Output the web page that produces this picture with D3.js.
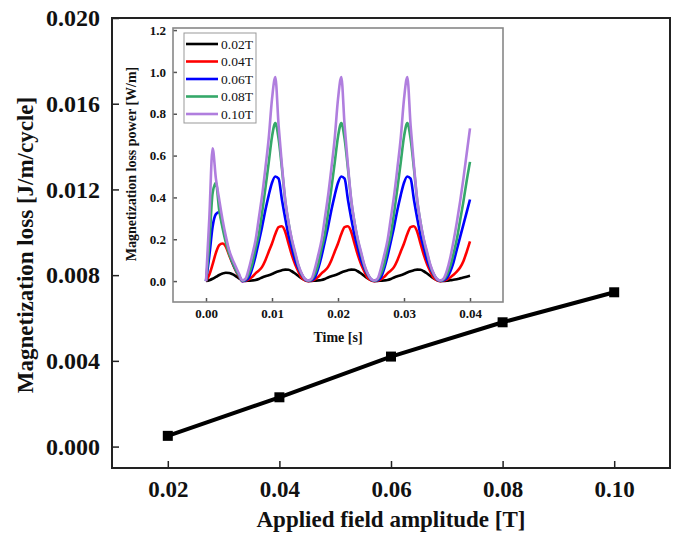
<!DOCTYPE html>
<html><head><meta charset="utf-8">
<script src="https://cdn.jsdelivr.net/npm/d3@7"></script>
<style>body{margin:0;background:#fff} svg{display:block}</style>
</head><body><svg id="c" width="677" height="536"></svg>
<script>
// ---------- main chart data ----------
const fieldAmp = [0.02, 0.04, 0.06, 0.08, 0.10];
const magLoss = [0.0005, 0.0023, 0.0042, 0.0058, 0.0072];
const mainXTicks = [0.02, 0.04, 0.06, 0.08, 0.10];
const mainYTicks = [0.000, 0.004, 0.008, 0.012, 0.016, 0.020];

// ---------- inset data ----------
const insetLabels = ["0.02T", "0.04T", "0.06T", "0.08T", "0.10T"];
const insetXTicks = [0.00, 0.01, 0.02, 0.03, 0.04];
const insetYTicks = [0.0, 0.2, 0.4, 0.6, 0.8, 1.0, 1.2];
const time = [0,0.0005,0.001,0.0015,0.002,0.0025,0.003,0.0035,0.004,0.0045,0.005,0.0055,0.006,0.0065,0.007,0.0075,0.008,0.0085,0.009,0.0095,0.01,0.0105,0.011,0.0115,0.012,0.0125,0.013,0.0135,0.014,0.0145,0.015,0.0155,0.016,0.0165,0.017,0.0175,0.018,0.0185,0.019,0.0195,0.02,0.0205,0.021,0.0215,0.022,0.0225,0.023,0.0235,0.024,0.0245,0.025,0.0255,0.026,0.0265,0.027,0.0275,0.028,0.0285,0.029,0.0295,0.03,0.0305,0.031,0.0315,0.032,0.0325,0.033,0.0335,0.034,0.0345,0.035,0.0355,0.036,0.0365,0.037,0.0375,0.038,0.0385,0.039,0.0395,0.04];
const power002 = [0,0.004,0.011,0.02,0.029,0.036,0.04,0.039,0.033,0.024,0.013,
  0.004,0.001,0.002,0.003,0.005,0.01,0.017,0.023,0.028,0.034,0.041,0.047,0.052,0.055,0.054,0.047,0.036,0.024,0.013,0.005,0.001,
  0.001,0.002,0.003,0.005,0.01,0.017,0.023,0.028,0.034,0.041,0.047,0.052,0.055,0.054,0.047,0.036,0.024,0.013,0.005,0.001,
  0.001,0.002,0.003,0.005,0.01,0.017,0.023,0.028,0.034,0.041,0.047,0.052,0.055,0.054,0.047,0.036,0.024,0.013,0.005,0.001,
  0.001,0.002,0.004,0.006,0.009,0.013,0.017,0.021,0.025];
const power004 = [0,0.03,0.08,0.135,0.172,0.18,0.165,0.125,0.085,0.05,0.022,
  0,0.002,0.008,0.02,0.037,0.05,0.068,0.10,0.14,0.18,0.225,0.258,0.262,0.236,0.18,0.125,0.08,0.045,0.015,0.004,0,
  0.002,0.008,0.02,0.037,0.05,0.068,0.10,0.14,0.18,0.225,0.258,0.262,0.236,0.18,0.125,0.08,0.045,0.015,0.004,0,
  0.002,0.008,0.02,0.037,0.05,0.068,0.10,0.14,0.18,0.225,0.258,0.262,0.236,0.18,0.125,0.08,0.045,0.015,0.004,0,
  0.002,0.007,0.017,0.03,0.045,0.065,0.095,0.14,0.19];
const power006 = [0,0.12,0.26,0.32,0.33,0.27,0.2,0.14,0.09,0.055,0.027,
  0,0.004,0.018,0.06,0.118,0.188,0.26,0.34,0.41,0.47,0.50,0.49,0.39,0.30,0.22,0.16,0.10,0.06,0.03,0.008,0.001,
  0.004,0.018,0.06,0.118,0.188,0.26,0.34,0.41,0.47,0.50,0.49,0.39,0.30,0.22,0.16,0.10,0.06,0.03,0.008,0.001,
  0.004,0.018,0.06,0.118,0.188,0.26,0.34,0.41,0.47,0.50,0.49,0.39,0.30,0.22,0.16,0.10,0.06,0.03,0.008,0.001,
  0.004,0.015,0.045,0.09,0.15,0.21,0.27,0.33,0.39];
const power008 = [0,0.18,0.42,0.47,0.34,0.255,0.185,0.13,0.09,0.055,0.027,
  0.002,0.008,0.035,0.08,0.154,0.222,0.327,0.444,0.565,0.69,0.755,0.68,0.54,0.385,0.28,0.195,0.13,0.072,0.033,0.009,0.002,
  0.008,0.035,0.08,0.154,0.222,0.327,0.444,0.565,0.69,0.755,0.68,0.54,0.385,0.28,0.195,0.13,0.072,0.033,0.009,0.002,
  0.008,0.035,0.08,0.154,0.222,0.327,0.444,0.565,0.69,0.755,0.68,0.54,0.385,0.28,0.195,0.13,0.072,0.033,0.009,0.002,
  0.008,0.03,0.07,0.13,0.20,0.29,0.38,0.48,0.57];
const power010 = [0,0.30,0.635,0.49,0.39,0.295,0.215,0.148,0.105,0.07,0.035,
  0.003,0.012,0.06,0.124,0.194,0.30,0.409,0.54,0.682,0.87,0.975,0.745,0.555,0.39,0.282,0.201,0.139,0.077,0.036,0.01,0.003,
  0.012,0.06,0.124,0.194,0.30,0.409,0.54,0.682,0.87,0.975,0.745,0.555,0.39,0.282,0.201,0.139,0.077,0.036,0.01,0.003,
  0.012,0.06,0.124,0.194,0.30,0.409,0.54,0.682,0.87,0.975,0.745,0.555,0.39,0.282,0.201,0.139,0.077,0.036,0.01,0.003,
  0.012,0.05,0.11,0.19,0.28,0.38,0.49,0.61,0.73];
const insetSeries = [power002, power004, power006, power008, power010];
const insetColors = ["#000000", "#ff0000", "#0000ff", "#35a869", "#b07ede"];

// ---------- drawing ----------
const FONT = "'Liberation Serif','Times New Roman',serif";
const svg = d3.select('#c');
svg.append('rect').attr('width',677).attr('height',536).attr('fill','#fff');

const M = {l:112, r:670, t:18, b:468};
const x = d3.scaleLinear().domain([0.01, 0.11]).range([M.l, M.r]);
const y = d3.scaleLinear().domain([-0.001, 0.020]).range([M.b, M.t]);

function styleAxis(g, size, color) {
  g.select('.domain').remove();
  g.selectAll('.tick line').attr('stroke', color).attr('stroke-width', 1.5);
  g.selectAll('.tick text').attr('font-family', FONT).attr('font-weight', 'bold')
    .attr('font-size', size).attr('fill', '#111');
}

svg.append('g').attr('transform', `translate(${M.l},0)`)
  .call(d3.axisLeft(y).tickValues(mainYTicks).tickFormat(d3.format('.3f'))
    .tickSizeInner(-7).tickSizeOuter(0).tickPadding(12))
  .call(g => styleAxis(g, 24, '#222'));
svg.append('g').attr('transform', `translate(0,${M.b})`)
  .call(d3.axisBottom(x).tickValues(mainXTicks).tickFormat(d3.format('.2f'))
    .tickSizeInner(-7).tickSizeOuter(0).tickPadding(13))
  .call(g => styleAxis(g, 23, '#222'));

svg.append('rect').attr('x', M.l).attr('y', M.t).attr('width', M.r - M.l).attr('height', M.b - M.t)
  .attr('fill', 'none').attr('stroke', '#222').attr('stroke-width', 2);

svg.append('text').attr('transform', `translate(33,245) rotate(-90)`)
  .attr('text-anchor', 'middle').attr('font-family', FONT).attr('font-weight', 'bold')
  .attr('font-size', 23).attr('fill', '#111').text('Magnetization loss [J/m/cycle]');
svg.append('text').attr('x', 391).attr('y', 527)
  .attr('text-anchor', 'middle').attr('font-family', FONT).attr('font-weight', 'bold')
  .attr('font-size', 23).attr('fill', '#111').text('Applied field amplitude [T]');

const mainPts = fieldAmp.map((d, i) => [d, magLoss[i]]);
svg.append('path').datum(mainPts)
  .attr('d', d3.line().x(d => x(d[0])).y(d => y(d[1])))
  .attr('fill', 'none').attr('stroke', '#000').attr('stroke-width', 4);
svg.selectAll('rect.mk').data(mainPts).enter().append('rect').attr('class', 'mk')
  .attr('x', d => x(d[0]) - 5).attr('y', d => y(d[1]) - 5)
  .attr('width', 10).attr('height', 10).attr('fill', '#000');

// ---------- inset ----------
const I = {l:173, r:503, t:28, b:302};
const ix = d3.scaleLinear().domain([-0.005, 0.045]).range([I.l, I.r]);
const iy = d3.scaleLinear().domain([-0.1, 1.21]).range([I.b, I.t]);

svg.append('rect').attr('x', I.l).attr('y', I.t).attr('width', I.r - I.l).attr('height', I.b - I.t)
  .attr('fill', '#fff');

svg.append('g').attr('transform', `translate(${I.l},0)`)
  .call(d3.axisLeft(iy).tickValues(insetYTicks).tickFormat(d3.format('.1f'))
    .tickSizeInner(-4).tickSizeOuter(0).tickPadding(7))
  .call(g => styleAxis(g, 13, '#555'));
svg.append('g').attr('transform', `translate(0,${I.b})`)
  .call(d3.axisBottom(ix).tickValues(insetXTicks).tickFormat(d3.format('.2f'))
    .tickSizeInner(-4).tickSizeOuter(0).tickPadding(7))
  .call(g => styleAxis(g, 13, '#555'));

const line = d3.line().x(d => ix(d[0])).y(d => iy(d[1])).curve(d3.curveMonotoneX);
insetSeries.forEach((vals, s) => {
  svg.append('path').datum(time.map((t, i) => [t, vals[i]]))
    .attr('d', line).attr('fill', 'none').attr('stroke', insetColors[s])
    .attr('stroke-width', 2.6).attr('stroke-linejoin', 'round');
});

svg.append('rect').attr('x', I.l).attr('y', I.t).attr('width', I.r - I.l).attr('height', I.b - I.t)
  .attr('fill', 'none').attr('stroke', '#888').attr('stroke-width', 1.6);

svg.append('text').attr('transform', `translate(136,164) rotate(-90)`)
  .attr('text-anchor', 'middle').attr('font-family', FONT).attr('font-weight', 'bold')
  .attr('font-size', 14).attr('fill', '#111').text('Magnetization loss power [W/m]');
svg.append('text').attr('x', 338).attr('y', 342)
  .attr('text-anchor', 'middle').attr('font-family', FONT).attr('font-weight', 'bold')
  .attr('font-size', 14).attr('fill', '#111').text('Time [s]');

// legend
const L = {x:184, y:33, w:72, h:90};
svg.append('rect').attr('x', L.x).attr('y', L.y).attr('width', L.w).attr('height', L.h)
  .attr('fill', '#fff').attr('stroke', '#999').attr('stroke-width', 1);
insetLabels.forEach((lab, i) => {
  const ry = 44 + i * 17.5;
  svg.append('line').attr('x1', 186).attr('x2', 218).attr('y1', ry).attr('y2', ry)
    .attr('stroke', insetColors[i]).attr('stroke-width', 2.6);
  svg.append('text').attr('x', 221).attr('y', ry).attr('dy', '0.35em')
    .attr('font-family', FONT).attr('font-size', 13.5).attr('fill', '#111').text(lab);
});
</script></body></html>
